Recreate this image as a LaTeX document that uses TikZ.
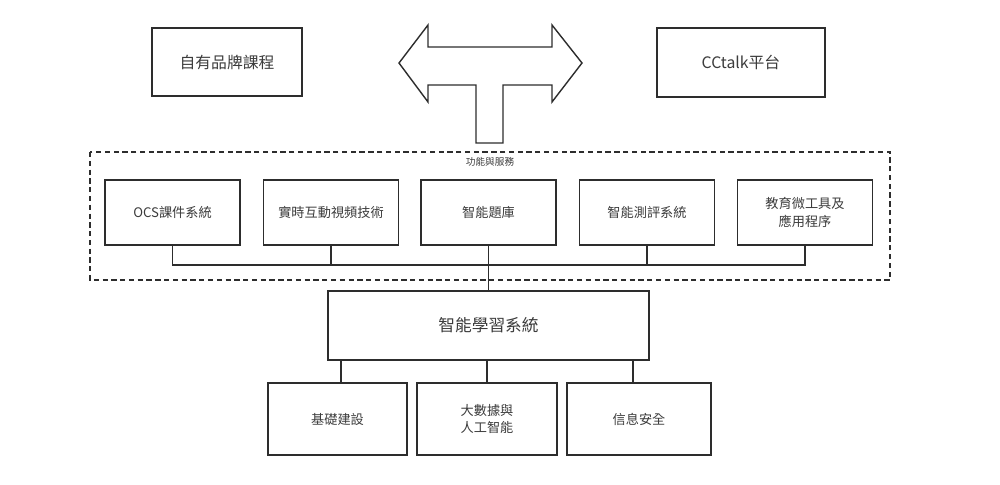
\documentclass[tikz,border=0pt]{standalone}
\usepackage{fontspec}
\newfontfamily\cjk{Noto Sans CJK TC}
\usetikzlibrary{positioning}
\definecolor{BoxLine}{RGB}{45,45,45}
\definecolor{BoxText}{RGB}{60,60,60}

\begin{document}
\begin{tikzpicture}[x=0.02cm, y=-0.02cm,
            bx/.style={rectangle, draw=BoxLine, line width=0.8pt, fill=white, text=BoxText,
                       align=center, inner sep=2pt, font=\cjk\fontsize{7.5}{10}\selectfont},
            lnk/.style={draw=BoxLine, line width=0.8pt}
          ]
          \useasboundingbox (0,0) rectangle (1000,484);

          % top row
          \node[bx, minimum width=3cm, minimum height=1.36cm] (brand) at (227,62)
                {\fontsize{9}{11}\selectfont 自有品牌課程};
          \node[bx, minimum width=3.36cm, minimum height=1.38cm] (cctalk) at (741,62.5)
                {\fontsize{9}{11}\selectfont CCtalk平台};

          % T-shaped double arrow
          \draw[lnk, fill=white] (399,63) -- (428,25) -- (428,47) -- (552,47)
                -- (552,25) -- (582,63) -- (552,102) -- (552,85) -- (503,85)
                -- (503,143) -- (476,143) -- (476,85) -- (428,85) -- (428,102) -- cycle;

          % functions and services
          \draw[draw=BoxLine, line width=0.7pt, dash pattern=on 3pt off 2pt]
                (90,152) rectangle (890,280);
          \node[font=\cjk\fontsize{5.5}{7}\selectfont, text=BoxText] (svc) at (490,162)
                {功能與服務};
          \node[bx, minimum width=2.7cm, minimum height=1.3cm] (f1) at (172.5,212.5) {OCS課件系統};
          \node[bx, minimum width=2.7cm, minimum height=1.3cm] (f2) at (331,212.5) {實時互動視頻技術};
          \node[bx, minimum width=2.7cm, minimum height=1.3cm] (f3) at (488.5,212.5) {智能題庫};
          \node[bx, minimum width=2.7cm, minimum height=1.3cm] (f4) at (647,212.5) {智能測評系統};
          \node[bx, minimum width=2.7cm, minimum height=1.3cm] (f5) at (805,212.5) {教育微工具及\\應用程序};
          \coordinate (bus) at (0,265);
          \draw[lnk] (f1.south) |- (bus -| f5.south) -- (f5.south);
          \foreach \f in {f2,f3,f4} \draw[lnk] (\f.south) -- (bus -| \f.south);

          % learning system
          \node[bx, minimum width=6.42cm, minimum height=1.38cm] (main) at (488.5,325.5)
                {\fontsize{9.5}{12}\selectfont 智能學習系統};
          \draw[lnk] (bus -| f3.south) -- (main.north -| f3.south);

          % foundations
          \node[bx, minimum width=2.78cm, minimum height=1.44cm] (b1) at (337.5,419) {基礎建設};
          \node[bx, minimum width=2.8cm, minimum height=1.44cm] (b2) at (487,419) {大數據與\\人工智能};
          \node[bx, minimum width=2.88cm, minimum height=1.44cm] (b3) at (639,419) {信息安全};
          \coordinate (d1) at (341,0);
          \coordinate (d2) at (487,0);
          \coordinate (d3) at (633,0);
          \foreach \i in {1,2,3} \draw[lnk] (main.south -| d\i) -- (b\i.north -| d\i);
        \end{tikzpicture}
\end{document}
